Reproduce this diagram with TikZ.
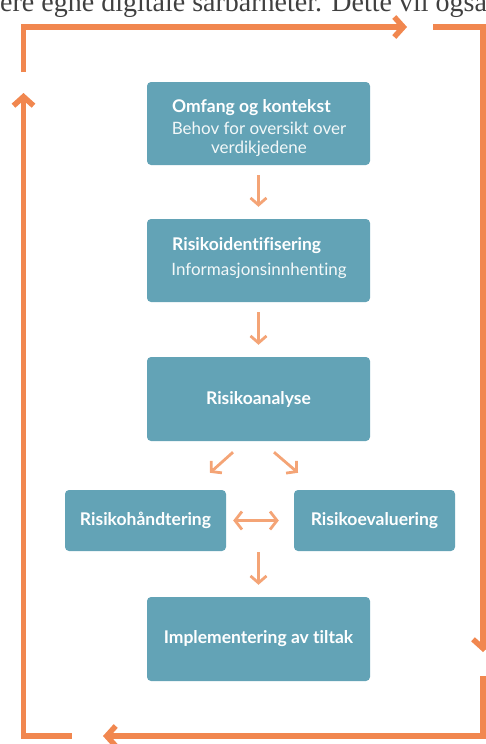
\documentclass[tikz,border=0pt]{standalone}
\usepackage{fontspec}
\setmainfont{Liberation Serif}
\newfontfamily\boxfont[Ligatures=NoCommon]{Lato}
\usetikzlibrary{arrows.meta}

\definecolor{ringorange}{RGB}{241,135,79}
\definecolor{floworange}{RGB}{244,164,118}
\definecolor{boxteal}{RGB}{99,163,182}

\tikzset{
  box/.style={fill=boxteal, rounded corners=4pt, inner sep=0pt,
    minimum width=223pt, minimum height=83pt, text=white,
    font=\boxfont\bfseries\fontsize{17.5}{20}\selectfont},
  smallbox/.style={box, minimum width=161pt, minimum height=61pt},
  boxtitle/.style={text=white, inner sep=0pt, anchor=base west,
    font=\boxfont\bfseries\fontsize{17.5}{20}\selectfont},
  boxsub/.style={text=white!92!boxteal, inner sep=0pt, align=center,
    font=\boxfont\fontsize{17}{19}\selectfont},
  ring/.style={draw=ringorange, line width=5.5pt,
    -{Straight Barb[length=9pt,width=20pt]}},
  flow/.style={draw=floworange, line width=2.8pt,
    -{Straight Barb[length=7pt,width=16pt]}},
}

\begin{document}
\begin{tikzpicture}[x=1pt,y=-1pt]
  \clip (0,0) rectangle (486,744);

  % text of the page above the figure
  \node[anchor=base west, inner sep=0pt, text=black!75,
    font=\fontsize{28}{28}\selectfont] (prose) at (0,11)
    {ere egne digitale sårbarheter. Dette vil også};

  % the steps
  \node[box] (omf) at (258.5,123.5) {};
  \node[boxtitle] (omft) at (172,112) {Omfang og kontekst};
  \node[boxsub, anchor=base] (omfs) at (259,153) {Behov for oversikt over\\verdikjedene};

  \node[box] (ide) at (258.5,260.5) {};
  \node[boxtitle] (idet) at (172,250) {Risikoidentifisering};
  \node[boxsub, anchor=base] (ides) at (259,275) {Informasjonsinnhenting};

  \node[box, minimum height=84pt] (ana) at (258.5,399) {Risikoanalyse};
  \node[smallbox] (han) at (145.5,520.5) {Risikohåndtering};
  \node[smallbox] (eva) at (374.5,520.5) {Risikoevaluering};
  \node[box, minimum height=84pt] (imp) at (258.5,639) {Implementering av tiltak};

  \coordinate (split) at (han.south -| imp.north);

  \draw[flow, shorten <=10pt, shorten >=12pt] (omf) -- (ide);
  \draw[flow, shorten <=10pt, shorten >=12pt] (ide) -- (ana);
  \draw[flow] ([xshift=-25.5pt,yshift=-11pt]ana.south) -- ([xshift=64.5pt,yshift=17pt]han.north);
  \draw[flow] ([xshift=15.5pt,yshift=-11pt]ana.south) -- ([xshift=-76.5pt,yshift=17pt]eva.north);
  \draw[flow, {Straight Barb[length=7pt,width=18pt]}-{Straight Barb[length=7pt,width=18pt]},
    shorten <=7pt, shorten >=15pt] (han) -- (eva);
  \draw[flow, shorten <=1pt, shorten >=12pt] (split) -- (imp);

  % the loop round the steps
  \coordinate (nw) at (23.5,27);
  \coordinate (ne) at (483,27);
  \coordinate (se) at (483,736);
  \coordinate (sw) at (23.5,736);
  \draw[ring] ([yshift=-45pt]nw) -- (nw) -- ([xshift=-76pt]ne);
  \draw[ring] ([xshift=-50pt]ne) -- (ne) -- ([yshift=84pt]se);
  \draw[ring] ([yshift=60pt]se) -- (se) -- ([xshift=79.5pt]sw);
  \draw[ring] ([xshift=48pt]sw) -- (sw) -- ([yshift=-66pt]nw);
\end{tikzpicture}
\end{document}
